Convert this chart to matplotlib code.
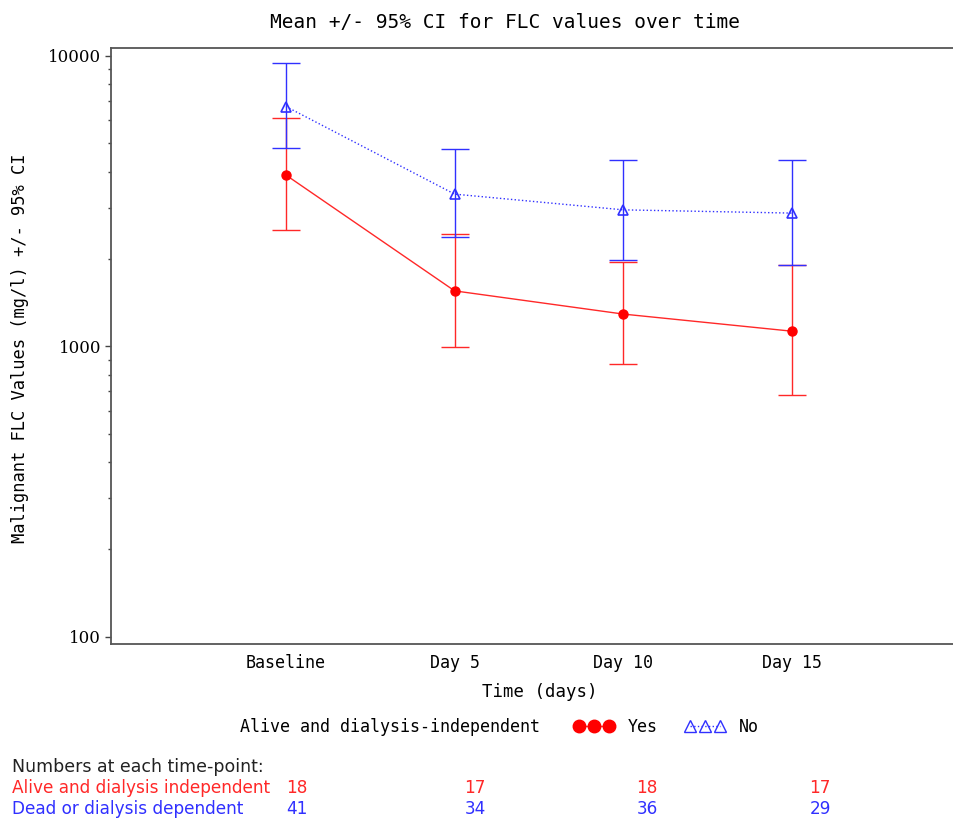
import numpy as np
import matplotlib.pyplot as plt
from matplotlib.lines import Line2D
from matplotlib.ticker import LogLocator, FixedLocator, NullFormatter

# data
timepoints = ['Baseline', 'Day 5', 'Day 10', 'Day 15']
yes_mean = [3890, 1553, 1292, 1128]
yes_lo = [2520, 994, 871, 679]
yes_hi = [6100, 2444, 1953, 1901]
no_mean = [6697, 3344, 2952, 2877]
no_lo = [4820, 2383, 1991, 1905]
no_hi = [9486, 4787, 4396, 4396]
n_yes = [18, 17, 18, 17]
n_no = [41, 34, 36, 29]

mono = 'DejaVu Sans Mono'
red = '#ff2828'
blue = '#3030ff'

fig = plt.figure(figsize=(9.54, 8.19), dpi=100)
ax = fig.add_axes([111 / 954, 1 - 644 / 819, 1 - 111 / 954, (644 - 48) / 819])

x = np.arange(1, len(timepoints) + 1)
ym = np.array(yes_mean)
nm = np.array(no_mean)

ax.errorbar(x, ym, yerr=[ym - np.array(yes_lo), np.array(yes_hi) - ym],
            color=red, lw=1, capsize=10, capthick=1, fmt='none', zorder=2)
ax.errorbar(x, nm, yerr=[nm - np.array(no_lo), np.array(no_hi) - nm],
            color=blue, lw=1, capsize=10, capthick=1, fmt='none', zorder=2)
ax.plot(x, ym, color=red, lw=1, marker='o', ms=6.5, mfc='red', mec='red', zorder=3)
ax.plot(x, nm, color=blue, lw=1, ls=':', marker='^', ms=7, mfc='none', mec=blue,
        mew=1.2, zorder=3)

ax.set_yscale('log')
ax.set_ylim(94.5, 10650)
ax.set_xlim(-0.037, 4.96)
ax.yaxis.set_major_locator(FixedLocator([100, 1000, 10000]))
ax.yaxis.set_minor_locator(LogLocator(base=10, subs=np.arange(2, 10)))
ax.yaxis.set_minor_formatter(NullFormatter())
ax.set_yticklabels(['100', '1000', '10000'], fontfamily='DejaVu Serif', fontsize=12)
ax.tick_params(axis='y', which='major', length=4, width=1, color='#444444', pad=3)
ax.tick_params(axis='y', which='minor', length=2, width=1, color='#444444')
ax.set_xticks(x)
ax.set_xticklabels(timepoints, fontfamily=mono, fontsize=12)
ax.tick_params(axis='x', length=0, pad=7)

for s in ['left', 'top', 'bottom']:
    ax.spines[s].set_color('#555555')
    ax.spines[s].set_linewidth(1.3)
ax.spines['right'].set_visible(False)

fig.text(505 / 954, 1 - 22 / 819, 'Mean +/- 95% CI for FLC values over time',
         ha='center', va='center', fontfamily=mono, fontsize=14)
fig.text(20 / 954, 1 - 348 / 819, 'Malignant FLC Values (mg/l) +/- 95% CI',
         rotation=90, ha='center', va='center', fontfamily=mono, fontsize=12.3)
fig.text(540 / 954, 1 - 692 / 819, 'Time (days)', ha='center', va='center',
         fontfamily=mono, fontsize=12.5)

# legend row
fig.text(240 / 954, 1 - 727 / 819, 'Alive and dialysis-independent', ha='left',
         va='center', fontfamily=mono, fontsize=12)
handles = [Line2D([], [], color=red, lw=1, marker='o', ms=9, mfc='red', mec='red'),
           Line2D([], [], color=blue, lw=1, ls=':', marker='^', ms=8, mfc='none', mec=blue)]
fig.legend(handles, ['Yes', 'No'], loc='center left',
           bbox_to_anchor=(567 / 954, 1 - 727 / 819), ncol=2, numpoints=3,
           handlelength=2.4, handletextpad=0.87, columnspacing=1.6, frameon=False,
           prop={'family': mono, 'size': 12}, borderaxespad=0)

# numbers at risk
fig.text(12 / 954, 1 - 767 / 819, 'Numbers at each time-point:', ha='left',
         va='center', fontsize=12.5, color='#222222')
fig.text(12 / 954, 1 - 788 / 819, 'Alive and dialysis independent', ha='left',
         va='center', fontsize=12.2, color=red)
fig.text(12 / 954, 1 - 809 / 819, 'Dead or dialysis dependent', ha='left',
         va='center', fontsize=12.2, color=blue)
num_x = [297, 475, 647, 820]
for px, a, b in zip(num_x, n_yes, n_no):
    fig.text(px / 954, 1 - 788 / 819, str(a), ha='center', va='center',
             fontsize=12.2, color=red)
    fig.text(px / 954, 1 - 809 / 819, str(b), ha='center', va='center',
             fontsize=12.2, color=blue)

fig.savefig('out.png', dpi=100)
